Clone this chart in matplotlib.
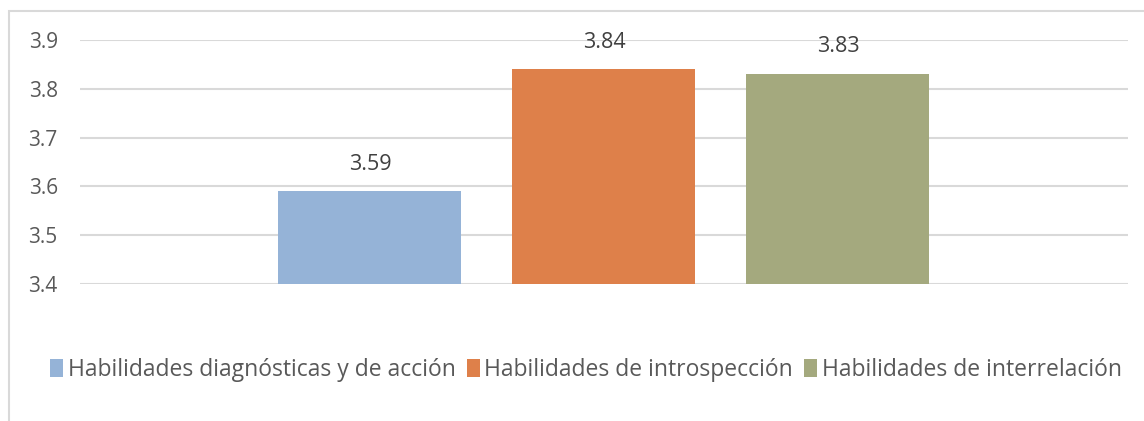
import matplotlib.pyplot as plt
from matplotlib.patches import Rectangle

# Data
series = ['Habilidades diagnósticas y de acción',
          'Habilidades de introspección',
          'Habilidades de interrelación']
values = [3.59, 3.84, 3.83]
colors = ['#95B3D7', '#DE804A', '#A4A97E']
yticks = [3.4, 3.5, 3.6, 3.7, 3.8, 3.9]

W, H = 1144, 421
fig = plt.figure(figsize=(W / 100, H / 100), dpi=100)
plt.rcParams['font.family'] = ['Open Sans', 'DejaVu Sans']

# chart frame (cut off on the right and bottom)
fig.patches.append(Rectangle((9 / W, -0.1), 1.2, 1 - 11 / H + 0.1,
                             transform=fig.transFigure, fill=False,
                             edgecolor='#D9D9D9', lw=1.5))

ax = fig.add_axes([80 / W, 1 - 284 / H, 1048 / W, 244 / H])

pos = [-1, 0, 1]
width = 183 / 234
bars = ax.bar(pos, values, width=width, color=colors, label=series, zorder=2)
for b, v in zip(bars, values):
    ax.annotate(f'{v:.2f}', (b.get_x() + b.get_width() / 2, v),
                xytext=(0, 12), textcoords='offset points',
                ha='center', va='bottom', fontsize=15.5, color='#404040')

half = 1048 / 234 / 2
ax.set_xlim(-half, half)
ax.set_ylim(3.4, 3.9)
ax.set_yticks(yticks)
ax.set_yticklabels([f'{t:.1f}' for t in yticks])
ax.yaxis.grid(True, color='#D9D9D9', lw=1.5, zorder=0)
ax.tick_params(axis='y', length=0, pad=16, labelsize=15, labelcolor='#595959')
ax.set_xticks([])
for s in ax.spines.values():
    s.set_visible(False)

fig.legend(handles=bars, labels=series, loc='center', ncol=3,
           bbox_to_anchor=(586 / W, 1 - 370 / H), frameon=False,
           fontsize=16.5, labelcolor='#595959', handlelength=0.55,
           handleheight=0.85, handletextpad=0.2, columnspacing=0.5)

fig.savefig('out.png', dpi=100)
